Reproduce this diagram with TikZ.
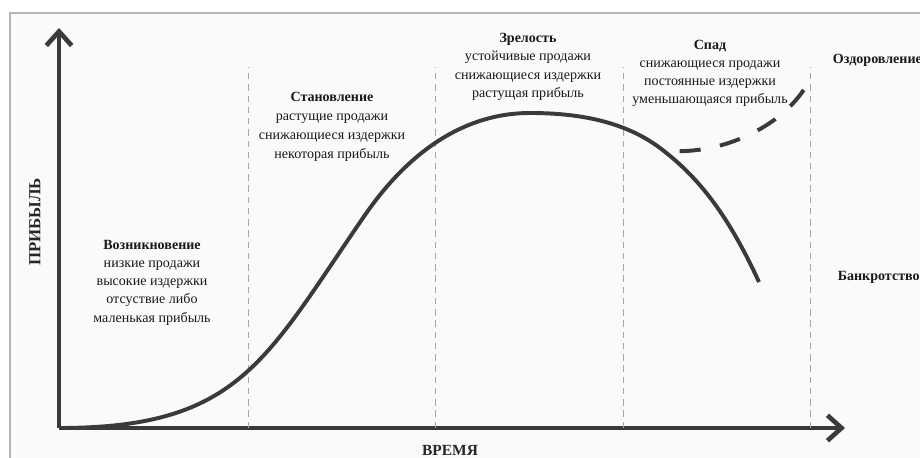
\documentclass[tikz,border=0pt]{standalone}
\usepackage{fontspec}
\setmainfont{Liberation Serif}
\usetikzlibrary{arrows.meta}
\definecolor{ink}{HTML}{3A3A3A}
\definecolor{paper}{HTML}{FAFAFA}
\definecolor{rim}{HTML}{B4B4B4}

\begin{document}
\begin{tikzpicture}[
  axis/.style={line width=3.3pt, draw=ink, -{Straight Barb[length=10pt,width=18pt]}},
  life/.style={line width=2.8pt, draw=ink},
  phaseline/.style={draw=gray!70, line width=0.6pt, dash pattern=on 4.5pt off 3.5pt},
  stage/.style={align=center, text=black!90, font=\fontsize{10}{13}\selectfont},
  outcome/.style={anchor=west, text=black!90, font=\bfseries\fontsize{10}{13}\selectfont}]
  \clip (0,0) rectangle (23,11.425);
  \draw[rim, fill=paper, line width=1.2pt] (0.25,-1) rectangle (24,11.1);

  % Axes
  \coordinate (O) at (1.475,0.725);
  \coordinate (ytop) at (1.475,10.725);
  \coordinate (xend) at (21.125,0.725);
  \draw[axis] (O) -- (ytop);
  \draw[axis] (O) -- (xend);
  \node[rotate=90, text=black!85, font=\bfseries\fontsize{12}{14}\selectfont] (ylabel) at (0.875,5.875) {ПРИБЫЛЬ};
  \node[anchor=north, text=black!85, font=\bfseries\fontsize{11}{13}\selectfont] (xlabel) at (11.25,0.42) {ВРЕМЯ};

  % Phase borders
  \foreach \x in {6.2,10.875,15.575,20.25}
    \draw[phaseline] (\x,0.725) -- (\x,9.75);

  % Life cycle curve
  \coordinate (fork) at (16.5,7.725);
  \draw[life] (O) .. controls (6.0,0.725) and (6.625,2.425) .. (9.125,6.05)
    .. controls (10.125,7.5) and (11.5,8.6) .. (13.25,8.6)
    .. controls (14.5,8.6) and (15.625,8.38) .. (fork)
    .. controls (17.5,6.975) and (18.225,6.0) .. (18.975,4.375);

  % Recovery branch
  \draw[life, dash pattern=on 15pt off 14pt, dash phase=15pt] (16.5,7.675) .. controls (18.0,7.475) and (19.75,8.3) .. (20.3,9.55);

  % Stages
  \node[stage] (rise) at (3.8,4.36) {\textbf{Возникновение}\\низкие продажи\\высокие издержки\\отсуствие либо\\маленькая прибыль};
  \node[stage, font=\fontsize{10}{13.5}\selectfont] (growth) at (8.3,8.26) {\textbf{Становление}\\растущие продажи\\снижающиеся издержки\\некоторая прибыль};
  \node[stage] (maturity) at (13.2,9.75) {\textbf{Зрелость}\\устойчивые продажи\\снижающиеся издержки\\растущая прибыль};
  \node[stage] (decline) at (17.75,9.59) {\textbf{Спад}\\снижающиеся продажи\\постоянные издержки\\уменьшающаяся прибыль};

  % Outcomes
  \node[outcome] (recovery) at (20.7,9.925) {Оздоровление};
  \node[outcome] (bankruptcy) at (20.82,4.5) {Банкротство};
\end{tikzpicture}
\end{document}
